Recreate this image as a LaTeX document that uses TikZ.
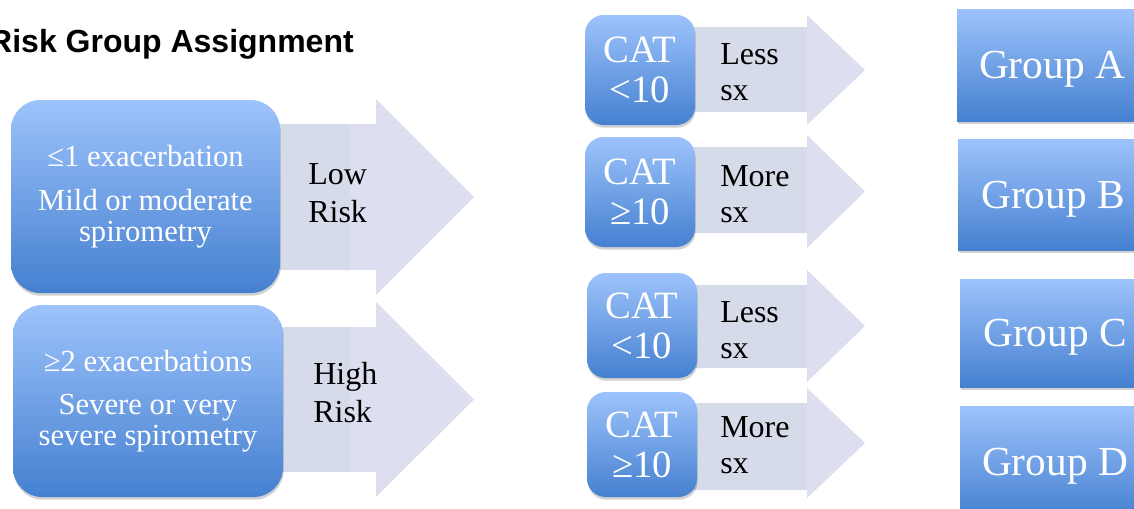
\documentclass[tikz,border=0pt]{standalone}
\usepackage{fontspec}
\setmainfont{Liberation Serif}
\newfontfamily\titlefont{Liberation Sans}
\usetikzlibrary{shadows,backgrounds}
\definecolor{btop}{HTML}{9DC3FB}
\definecolor{bbot}{HTML}{4580D0}
\definecolor{ahead}{HTML}{DDDEEF}
\definecolor{abody}{HTML}{D5DBE8}
\begin{document}
\begin{tikzpicture}[x=0.75pt,y=-0.75pt,
  bluebox/.style={top color=btop,bottom color=bbot,draw=none,text=white,align=center,inner sep=0pt,
     drop shadow={shadow xshift=0.5pt,shadow yshift=-2pt,opacity=0.18,fill=black}},
  roundbox/.style={bluebox,rounded corners=22pt},
  catbox/.style={bluebox,rounded corners=14pt,minimum width=82.5pt,font=\fontsize{29}{30}\selectfont},
  groupbox/.style={bluebox,minimum width=142.5pt,text depth=0pt,font=\fontsize{31}{34}\selectfont},
  risklabel/.style={anchor=base west,align=left,inner sep=0pt,font=\fontsize{24}{28}\selectfont},
  sxlabel/.style={anchor=base west,align=left,inner sep=0pt,font=\fontsize{24}{27}\selectfont},
  arrowhead/.style={fill=ahead,draw=none},
  arrowbody/.style={fill=abody,draw=none}]
\useasboundingbox (0,0) rectangle (1134,508);

% title
\node[anchor=base east,inner sep=0pt,font=\titlefont\bfseries\fontsize{24}{26}\selectfont] (title) at (354,52) {Risk Group Assignment};

% risk boxes
\node[roundbox,minimum width=201.75pt,minimum height=144.75pt,font=\fontsize{23}{23}\selectfont] (b1) at (145.5,196.5)
  {≤1 exacerbation\\[10pt]Mild or moderate\\spirometry};
\node[roundbox,minimum width=202.5pt,minimum height=144pt,font=\fontsize{23}{23}\selectfont] (b2) at (148,401)
  {≥2 exacerbations\\[9pt]Severe or very\\severe spirometry};
\node[risklabel] (low) at (308,222) {Low\\Risk};
\node[risklabel] (high) at (313,422) {High\\Risk};

% CAT boxes
\node[catbox,minimum height=82.5pt] (c1) at (640,70) {CAT\\<10};
\node[catbox,minimum height=82.5pt] (c2) at (640,192) {CAT\\≥10};
\node[catbox,minimum height=78.75pt] (c3) at (642,325.5) {CAT\\<10};
\node[catbox,minimum height=78.75pt] (c4) at (642,444.5) {CAT\\≥10};
\node[sxlabel] (s1) at (720,100) {Less\\sx};
\node[sxlabel] (s2) at (720,222) {More\\sx};
\node[sxlabel] (s3) at (720,358) {Less\\sx};
\node[sxlabel] (s4) at (720,473) {More\\sx};

% group boxes
\node[groupbox,minimum height=84pt] (gA) at (1052,65) {Group A};
\node[groupbox,minimum height=83.25pt] (gB) at (1053,194.5) {Group B};
\node[groupbox,minimum height=81pt] (gC) at (1055,333) {Group C};
\node[groupbox,minimum height=84pt] (gD) at (1055,462) {Group D};

% block arrows
\begin{scope}[on background layer]
\fill[arrowhead] (265,124) -- (376,124) -- (376,99) -- (474,197) -- (376,295) -- (376,270) -- (265,270) -- cycle;
\fill[arrowbody] (265,124) rectangle (350,270);
\fill[arrowhead] (265,327) -- (376,327) -- (376,302) -- (474,399.5) -- (376,497) -- (376,472) -- (265,472) -- cycle;
\fill[arrowbody] (265,327) rectangle (350,472);
\fill[arrowhead] (685,27) -- (807,27) -- (807,15) -- (865,70) -- (807,125) -- (807,112) -- (685,112) -- cycle;
\fill[arrowbody] (685,27) rectangle (807,112);
\fill[arrowhead] (685,147) -- (807,147) -- (807,135) -- (865,191.5) -- (807,248) -- (807,233) -- (685,233) -- cycle;
\fill[arrowbody] (685,147) rectangle (807,233);
\fill[arrowhead] (685,285) -- (807,285) -- (807,270) -- (865,326) -- (807,382) -- (807,368) -- (685,368) -- cycle;
\fill[arrowbody] (685,285) rectangle (807,368);
\fill[arrowhead] (685,403) -- (807,403) -- (807,388) -- (865,443) -- (807,498) -- (807,490) -- (685,490) -- cycle;
\fill[arrowbody] (685,403) rectangle (807,490);
\end{scope}
\end{tikzpicture}
\end{document}
